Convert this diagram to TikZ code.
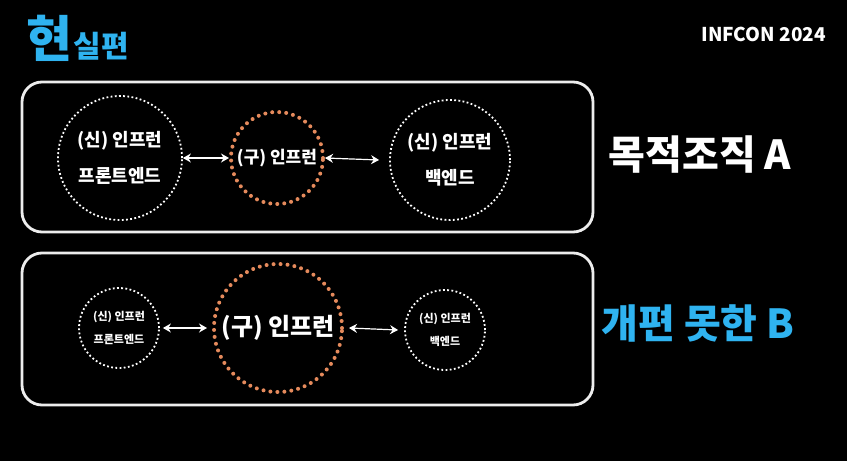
\documentclass[tikz,border=0pt]{standalone}
\usepackage{fontspec}
\setmainfont{Noto Sans CJK KR}
\usetikzlibrary{arrows.meta, positioning}
\definecolor{legacy}{HTML}{E58A5C}
\definecolor{sky}{HTML}{2FB3F0}
\definecolor{chalk}{HTML}{EDEDED}

\begin{document}
\begin{tikzpicture}[
    x=1pt, y=-1pt,
    >=Stealth,
    font=\bfseries,
    panel/.style={draw=chalk, line width=2.8pt, rounded corners=20pt},
    newc/.style={circle, draw=white, line width=1.8pt, dash pattern=on 1.8pt off 2.4pt,
                 text=white, align=center, inner sep=0pt},
    oldc/.style={circle, draw=legacy, line width=4pt, line cap=round,
                 dash pattern=on 0pt off 7pt, text=white, align=center, inner sep=0pt},
    link/.style={white, line width=1.2pt, {Stealth[length=8pt,width=9pt]}-{Stealth[length=8pt,width=9pt]}},
    tag/.style={font=\bfseries\fontsize{40}{44}\selectfont, anchor=center},
]

\useasboundingbox[fill=black] (0,0) rectangle (847,461);

% header
\node[anchor=base west, text=sky, font=\bfseries\fontsize{50}{52}\selectfont, inner sep=0pt]
    (hyun) at (26,57) {현};
\node[anchor=base west, text=sky, font=\bfseries\fontsize{30}{32}\selectfont, inner sep=0pt]
    (silpyeon) at ([xshift=1pt]hyun.base east) {실편};
\node[anchor=base east, text=white, font=\bfseries\fontsize{19}{21}\selectfont, inner sep=0pt]
    (conf) at (826,41) {INFCON 2024};

% Panel A: purpose organisation
\draw[panel] (22,82) rectangle (593,232);
\node[newc, minimum size=124pt, font=\bfseries\fontsize{18}{36}\selectfont]
    (feA) at (120,158) {(신) 인프런\\프론트엔드};
\node[oldc, minimum size=92pt, font=\bfseries\fontsize{17}{19}\selectfont]
    (oldA) at (277,158) {(구) 인프런};
\node[newc, minimum size=120pt, font=\bfseries\fontsize{18}{36}\selectfont]
    (beA) at (450,160) {(신) 인프런\\백엔드};
\draw[link] (feA.east) -- (oldA.west);
\draw[link] (oldA.east) -- ([xshift=-10pt]beA.west);
\node[tag, text=white] (tagA) at (700,155) {목적조직 A};

% Panel B: not yet reorganised
\draw[panel] (22,253) rectangle (593,405);
\node[newc, minimum size=80pt, font=\bfseries\fontsize{11}{23}\selectfont]
    (feB) at (119,328) {(신) 인프런\\프론트엔드};
\node[oldc, minimum size=128pt, font=\bfseries\fontsize{24}{26}\selectfont]
    (oldB) at (278,328) {(구) 인프런};
\node[newc, minimum size=80pt, font=\bfseries\fontsize{11}{23}\selectfont]
    (beB) at (445,330) {(신) 인프런\\백엔드};
\draw[link] ([xshift=3pt]feB.east) -- ([xshift=-5pt]oldB.west);
\draw[link] ([xshift=5pt]oldB.east) -- ([xshift=-6pt]beB.west);
\node[tag, text=sky] (tagB) at (698,323) {개편 못한 B};

\end{tikzpicture}
\end{document}
